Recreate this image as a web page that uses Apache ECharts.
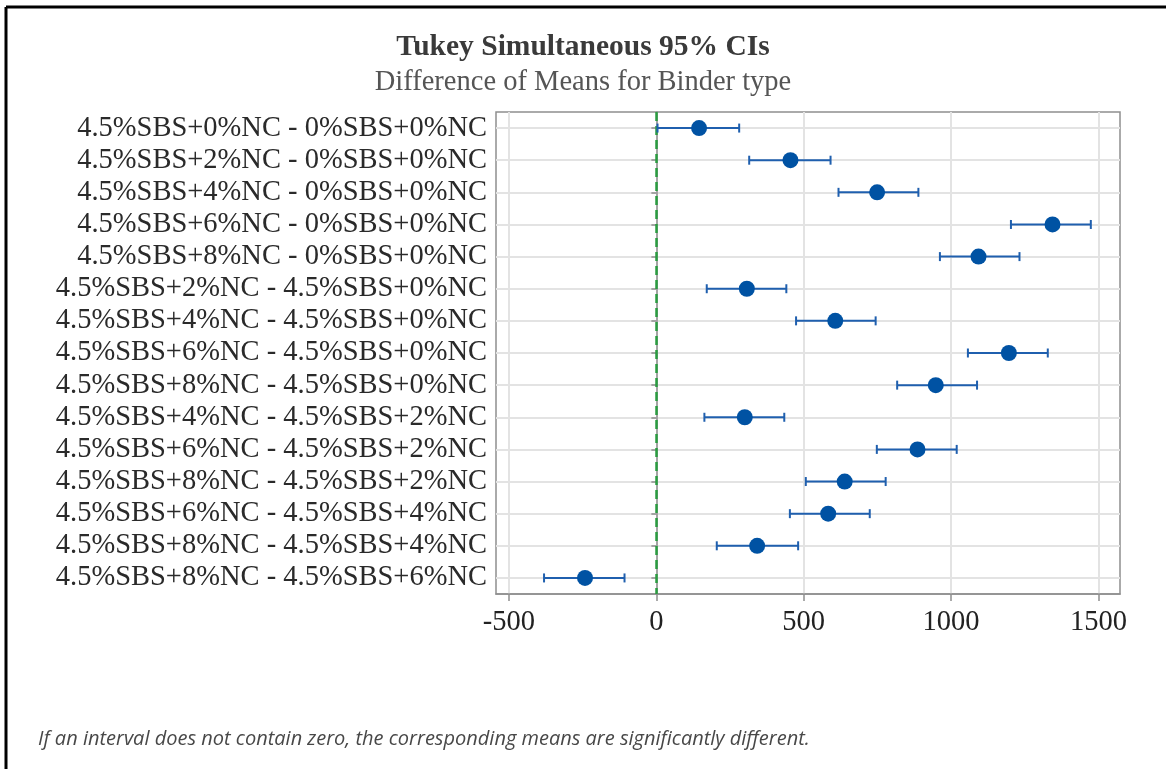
<!DOCTYPE html>
<html>
<head>
<meta charset="utf-8">
<script src="https://cdn.jsdelivr.net/npm/echarts@6/dist/echarts.min.js"></script>
<style>
html,body{margin:0;padding:0;background:#fff;}
#chart{width:1166px;height:769px;}
</style>
</head>
<body>
<div id="chart"></div>
<script>
const categories = [
  "4.5%SBS+0%NC - 0%SBS+0%NC",
  "4.5%SBS+2%NC - 0%SBS+0%NC",
  "4.5%SBS+4%NC - 0%SBS+0%NC",
  "4.5%SBS+6%NC - 0%SBS+0%NC",
  "4.5%SBS+8%NC - 0%SBS+0%NC",
  "4.5%SBS+2%NC - 4.5%SBS+0%NC",
  "4.5%SBS+4%NC - 4.5%SBS+0%NC",
  "4.5%SBS+6%NC - 4.5%SBS+0%NC",
  "4.5%SBS+8%NC - 4.5%SBS+0%NC",
  "4.5%SBS+4%NC - 4.5%SBS+2%NC",
  "4.5%SBS+6%NC - 4.5%SBS+2%NC",
  "4.5%SBS+8%NC - 4.5%SBS+2%NC",
  "4.5%SBS+6%NC - 4.5%SBS+4%NC",
  "4.5%SBS+8%NC - 4.5%SBS+4%NC",
  "4.5%SBS+8%NC - 4.5%SBS+6%NC"
];
const means = [145, 455, 749, 1344, 1093, 307, 607, 1196, 948, 300, 886, 639, 583, 342, -242];
const lower = [4, 315, 618, 1203, 962, 171, 474, 1057, 817, 163, 748, 507, 453, 205, -381];
const upper = [281, 591, 889, 1474, 1232, 441, 744, 1328, 1088, 434, 1019, 778, 724, 481, -108];
const xTicks = [-500, 0, 500, 1000, 1500];
const xMin = -544;
const xMax = 1573;

const chart = echarts.init(document.getElementById('chart'));

const barData = categories.map((c, i) => [lower[i], upper[i], i]);
const pointData = categories.map((c, i) => [means[i], i]);

const serif = '"Liberation Serif", "DejaVu Serif", serif';
const barColor = '#1f5fae';

const option = {
  animation: false,
  backgroundColor: '#ffffff',
  title: [
    {
      text: 'Tukey Simultaneous 95% CIs',
      left: 'center',
      top: 27,
      textStyle: { fontFamily: serif, fontWeight: 'bold', fontSize: 29.5, color: '#3a3a3a' }
    },
    {
      text: 'Difference of Means for Binder type',
      left: 'center',
      top: 63,
      textStyle: { fontFamily: serif, fontWeight: 'normal', fontSize: 28.5, color: '#555555' }
    },
    {
      text: 'If an interval does not contain zero, the corresponding means are significantly different.',
      left: 33,
      top: 724,
      textStyle: { fontFamily: '"Open Sans", "Noto Sans", sans-serif', fontStyle: 'italic', fontWeight: 'normal', fontSize: 20, color: '#484848' }
    }
  ],
  graphic: [
    { type: 'line', shape: { x1: 6, y1: 7, x2: 1166, y2: 7 }, style: { stroke: '#000', lineWidth: 3 } },
    { type: 'line', shape: { x1: 6, y1: 7, x2: 6, y2: 769 }, style: { stroke: '#000', lineWidth: 3 } }
  ],
  grid: {
    left: 496, right: 46, top: 112, bottom: 175,
    show: true, borderColor: '#8f8f8f', borderWidth: 1.5, backgroundColor: 'transparent'
  },
  xAxis: {
    type: 'value',
    min: xMin,
    max: xMax,
    axisLine: { show: true, lineStyle: { color: '#8f8f8f', width: 1.5 } },
    axisTick: { show: true, customValues: xTicks, length: 7, lineStyle: { color: '#8f8f8f', width: 1.5 } },
    axisLabel: { customValues: xTicks, formatter: v => String(v), fontFamily: serif, fontSize: 28.5, color: '#222', margin: 14 },
    splitLine: { show: true, lineStyle: { color: '#e3e3e3', width: 2 } }
  },
  yAxis: {
    type: 'category',
    data: categories,
    inverse: true,
    axisLine: { show: true, lineStyle: { color: '#8f8f8f', width: 1.5 } },
    axisTick: { show: true, alignWithLabel: true, interval: 0, length: 5, lineStyle: { color: '#8f8f8f', width: 1.5 } },
    axisLabel: { interval: 0, hideOverlap: false, fontFamily: serif, fontSize: 28.5, color: '#2a2a2a', margin: 9 },
    splitLine: { show: false }
  },
  series: [
    {
      type: 'line',
      data: [],
      silent: true,
      z: 0,
      markLine: {
        silent: true,
        symbol: 'none',
        z: 0,
        label: { show: false },
        lineStyle: { color: '#e3e3e3', width: 2, type: 'solid' },
        data: categories.map(c => ({ yAxis: c }))
      }
    },
    {
      type: 'line',
      data: [],
      silent: true,
      z: 5,
      markLine: {
        silent: true,
        symbol: 'none',
        label: { show: false },
        lineStyle: { color: '#2a9c40', width: 2.5, type: [9, 5], opacity: 1 },
        data: [{ xAxis: 0 }]
      }
    },
    {
      type: 'custom',
      z: 10,
      silent: true,
      data: barData,
      encode: { x: [0, 1], y: 2 },
      renderItem: function (params, api) {
        const lo = api.coord([api.value(0), api.value(2)]);
        const hi = api.coord([api.value(1), api.value(2)]);
        const h = 4.5;
        return {
          type: 'group',
          children: [
            { type: 'line', shape: { x1: lo[0], y1: lo[1], x2: hi[0], y2: hi[1] }, style: { stroke: barColor, lineWidth: 2 } },
            { type: 'line', shape: { x1: lo[0], y1: lo[1] - h, x2: lo[0], y2: lo[1] + h }, style: { stroke: barColor, lineWidth: 2 } },
            { type: 'line', shape: { x1: hi[0], y1: hi[1] - h, x2: hi[0], y2: hi[1] + h }, style: { stroke: barColor, lineWidth: 2 } }
          ]
        };
      }
    },
    {
      type: 'scatter',
      z: 11,
      silent: true,
      data: pointData,
      symbol: 'circle',
      symbolSize: 16,
      itemStyle: { color: '#0052a3', opacity: 1 }
    }
  ]
};
chart.setOption(option);
</script>
</body>
</html>
